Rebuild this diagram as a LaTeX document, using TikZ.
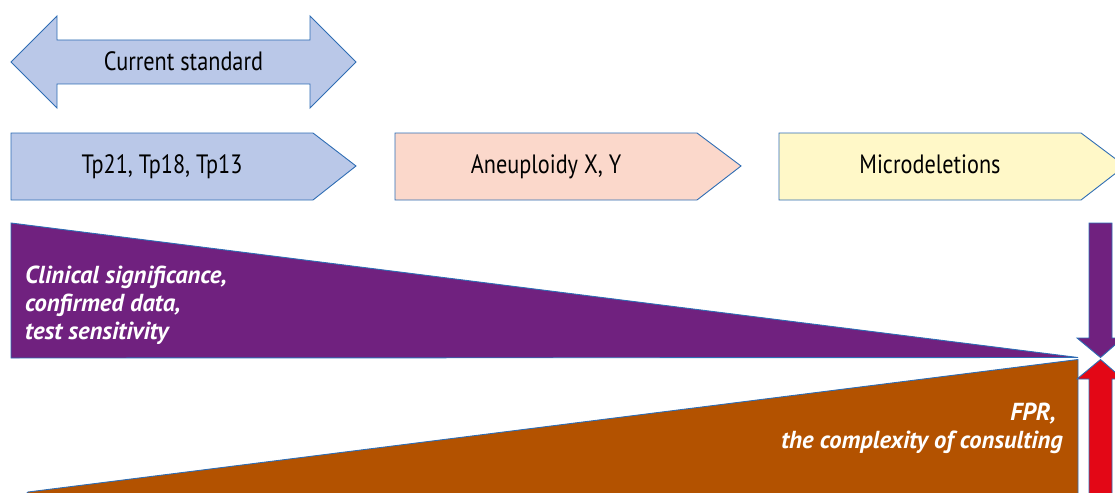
\documentclass[tikz,border=0pt]{standalone}
\usepackage{fontspec}
\setmainfont{PT Sans}[FakeStretch=0.84]
\newfontfamily\trifont{PT Sans}
\definecolor{edgeblue}{HTML}{2E6DB4}
\definecolor{boxblue}{HTML}{BAC8E8}
\definecolor{boxpink}{HTML}{FBD8CB}
\definecolor{boxyellow}{HTML}{FFF8C8}
\definecolor{triviolet}{HTML}{70217F}
\definecolor{triorange}{HTML}{B35200}
\definecolor{arrred}{HTML}{E30716}
\begin{document}
\begin{tikzpicture}[x=1pt,y=-1pt,
  shape edge/.style={draw=edgeblue, line width=0.9pt, line join=miter},
  box text/.style={font=\fontsize{26.5}{30}\selectfont, text=black, inner sep=0pt, anchor=base},
  tri text/.style={font=\trifont\fontsize{24.6}{28}\selectfont\bfseries\itshape, text=white, inner sep=0pt}]
\useasboundingbox (0,0) rectangle (1115,492);
\clip (0,0) rectangle (1115,492);
% double arrow
\filldraw[shape edge, fill=boxblue] (11,62) -- (57,16) -- (57,40) -- (310,40) -- (310,16) -- (356,62)
  -- (310,108) -- (310,84) -- (57,84) -- (57,108) -- cycle;
\node[box text] (std) at (183.5,71) {Current standard};
% chevrons
\filldraw[shape edge, fill=boxblue] (11,133) -- (313,133) -- (356,166) -- (313,200) -- (11,200) -- cycle;
\node[box text] (tp) at (162,173) {Tp21, Tp18, Tp13};
\filldraw[shape edge, fill=boxpink] (395,133) -- (697,133) -- (741,166) -- (697,200) -- (395,200) -- cycle;
\node[box text] (aneu) at (546,173) {Aneuploidy X, Y};
\filldraw[shape edge, fill=boxyellow] (779,133) -- (1081,133) -- (1125,166) -- (1081,200) -- (779,200) -- cycle;
\node[box text] (micro) at (930,173) {Microdeletions};
% triangles
\filldraw[shape edge, fill=triviolet] (11,223) -- (1078,357.5) -- (11,358) -- cycle;
\node[tri text, anchor=base west] (clin1) at (25,283) {Clinical significance,};
\node[tri text, anchor=base west] (clin2) at (25,311) {confirmed data,};
\node[tri text, anchor=base west] (clin3) at (25,339) {test sensitivity};
\filldraw[shape edge, fill=triorange] (28,492) -- (1078,359.5) -- (1078,500) -- (20,500) -- cycle;
\node[tri text, anchor=base east] (fpr1) at (1056,420) {FPR,};
\node[tri text, anchor=base east] (fpr2) at (1063,448) {the complexity of consulting};
% vertical arrows
\filldraw[shape edge, fill=triviolet] (1089,223) -- (1112,223) -- (1112,338) -- (1123,338) -- (1100.5,357.5)
  -- (1077,338) -- (1089,338) -- cycle;
\filldraw[shape edge, fill=arrred] (1089,500) -- (1089,379) -- (1077,379) -- (1100.5,359.5) -- (1123,379)
  -- (1112,379) -- (1112,500) -- cycle;
\end{tikzpicture}
\end{document}
